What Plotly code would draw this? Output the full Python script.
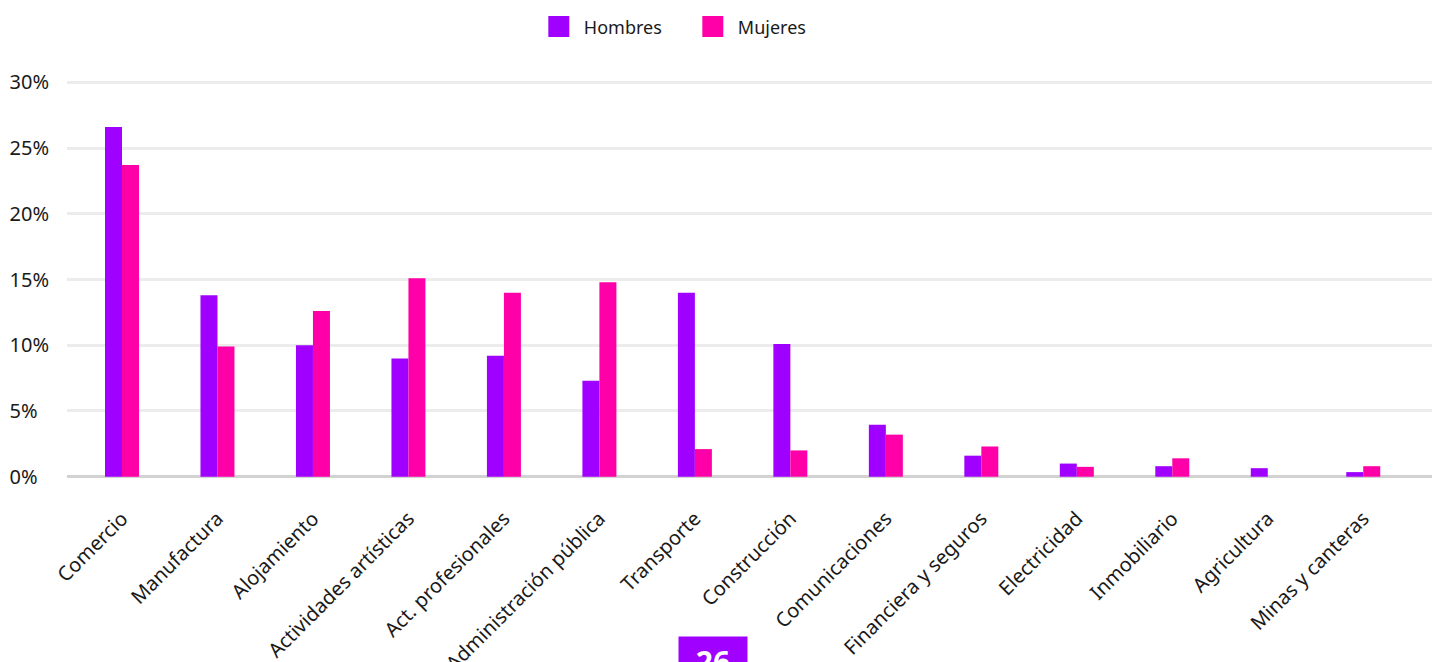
import plotly.graph_objects as go

categories = ["Comercio", "Manufactura", "Alojamiento", "Actividades artísticas",
              "Act. profesionales", "Administración pública", "Transporte", "Construcción",
              "Comunicaciones", "Financiera y seguros", "Electricidad", "Inmobiliario",
              "Agricultura", "Minas y canteras"]
hombres = [26.6, 13.8, 10.0, 9.0, 9.2, 7.3, 14.0, 10.1, 3.95, 1.6, 1.0, 0.8, 0.65, 0.35]
mujeres = [23.7, 9.9, 12.6, 15.1, 14.0, 14.8, 2.1, 2.0, 3.2, 2.3, 0.75, 1.4, 0.0, 0.8]
y_tickvals = [0, 5, 10, 15, 20, 25, 30]
y_ticktext = ["0%\u2007", "5%\u2007", "10%", "15%", "20%", "25%", "30%"]
page_number = "26"

PURPLE = "#a000ff"
PINK = "#ff00a8"
FONT = "Noto Sans"

fig = go.Figure()
fig.add_trace(go.Bar(x=categories, y=hombres, name="Hombres", marker_color=PURPLE,
                     marker_line_width=0, showlegend=False, legendgroup="h"))
fig.add_trace(go.Bar(x=categories, y=mujeres, name="Mujeres", marker_color=PINK,
                     marker_line_width=0, showlegend=False, legendgroup="m"))
# legend proxies (larger square swatches)
for name, col, grp in [("Hombres", PURPLE, "h"), ("Mujeres", PINK, "m")]:
    fig.add_trace(go.Scatter(x=[None], y=[None], mode="markers", name=name, legendgroup=grp,
                             marker=dict(symbol="square", size=16, color=col,
                                         line=dict(color=col, width=5))))

fig.update_layout(
    width=1436, height=662,
    margin=dict(l=67, r=4, t=79, b=182),
    paper_bgcolor="white", plot_bgcolor="white",
    barmode="group", bargap=0.644, bargroupgap=0,
    font=dict(family=FONT, size=18, color="#1a1a1a"),
    legend=dict(orientation="h", x=0.342, xanchor="left", y=1.13, yanchor="middle",
                font=dict(size=18), itemsizing="trace", itemwidth=40,
                entrywidth=99, entrywidthmode="pixels",
                bgcolor="rgba(0,0,0,0)"),
    xaxis=dict(range=[-0.576, 13.72], tickangle=-45, showgrid=False, ticks="",
               tickfont=dict(size=20), showline=False, fixedrange=True,
               automargin=False, ticklabelstandoff=22),
    yaxis=dict(range=[-0.25, 30.25], tickvals=y_tickvals, ticktext=y_ticktext,
               showgrid=True, gridcolor="#ececec", gridwidth=3,
               zeroline=True, zerolinecolor="#d2d2d2", zerolinewidth=3,
               tickfont=dict(size=20), ticks="", ticklabelstandoff=17,
               automargin=False, fixedrange=True),
    annotations=[dict(text="<b>" + page_number + "</b>", xref="paper", yref="paper",
                      x=0.4733, y=-0.389, xanchor="center", yanchor="top",
                      showarrow=False, bgcolor=PURPLE, width=66, height=46,
                      font=dict(family=FONT, size=30, color="white"))],
)

fig.write_html("out.html", config={"displayModeBar": False},
               post_script="document.body.style.margin='0';document.body.style.overflow='hidden';")
